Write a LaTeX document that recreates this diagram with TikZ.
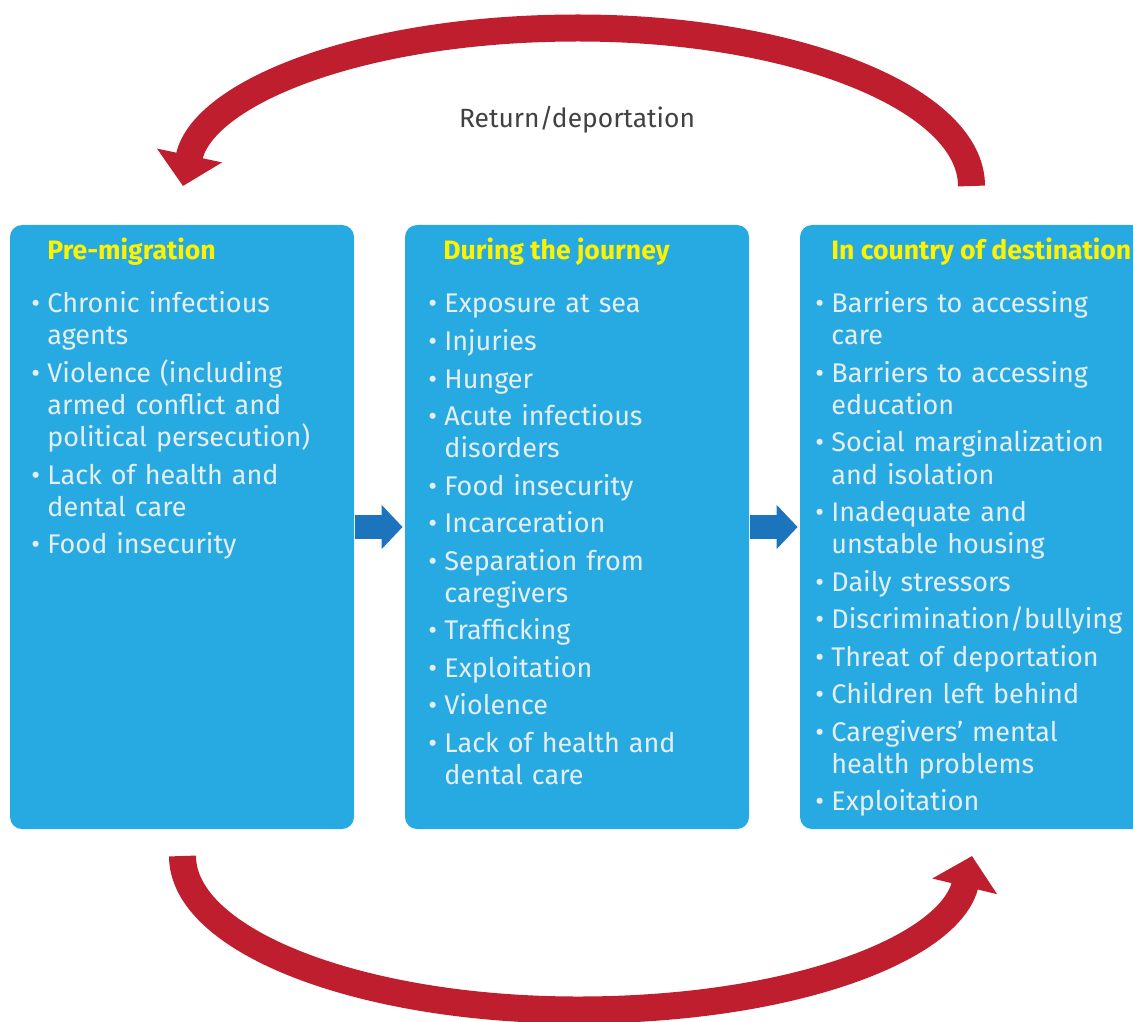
\documentclass[tikz,border=0pt]{standalone}
\usepackage{fontspec}
\setmainfont{Fira Sans}
\usetikzlibrary{arrows.meta}

\definecolor{boxblue}{HTML}{27AAE1}
\definecolor{arrowblue}{HTML}{1C75BC}
\definecolor{loopred}{HTML}{BE1E2D}
\definecolor{headyellow}{HTML}{FFF200}
\definecolor{itemgrey}{HTML}{E6EEF3}
\definecolor{labelgrey}{HTML}{414042}

% one bullet point, wrapped lines hang under the text
\newcommand{\entry}[1]{\noindent\hangindent=8pt\hangafter=1\makebox[8pt][l]{\textbullet}#1\par\vspace{2.75pt}}

\begin{document}
\begin{tikzpicture}[x=0.5pt, y=-0.5pt,
    stage/.style={fill=boxblue, rounded corners=6pt, minimum width=172pt, minimum height=302pt, inner sep=0pt},
    heading/.style={anchor=base west, inner sep=0pt, text=headyellow, font=\fontsize{13.3}{15}\selectfont\bfseries},
    items/.style={anchor=base west, inner sep=0pt, text width=165pt, align=left, text=itemgrey, font=\fontsize{13.5}{16}\selectfont},
    flow/.style={arrowblue, line width=12pt, -{Triangle[length=10.5pt, width=21.5pt]}, shorten <=0.5pt, shorten >=1pt},
    journeyarc/.style={loopred, line width=13.5pt, -{Triangle[length=15.6pt, width=32.4pt]}}]
    \useasboundingbox (0,0) rectangle (1133,1021);

    % the three stages
    \node[stage] (pre) at (182,527) {};
    \node[stage] (during) at (577,527) {};
    \node[stage] (dest) at (972,527) {};

    \node[heading] (preh) at (47,260) {Pre-migration};
    \node[heading] (duringh) at (443,260) {During the journey};
    \node[heading] (desth) at (831,260) {In country of destination};

    \node[items] (prelist) at (31,313) {%
        \entry{Chronic infectious\newline agents}
        \entry{Violence (including\newline armed conflict and\newline political persecution)}
        \entry{Lack of health and\newline dental care}
        \entry{Food insecurity}};
    \node[items] (duringlist) at (428,313) {%
        \entry{Exposure at sea}
        \entry{Injuries}
        \entry{Hunger}
        \entry{Acute infectious\newline disorders}
        \entry{Food insecurity}
        \entry{Incarceration}
        \entry{Separation from\newline caregivers}
        \entry{Trafficking}
        \entry{Exploitation}
        \entry{Violence}
        \entry{Lack of health and\newline dental care}};
    \node[items] (destlist) at (815,313) {%
        \entry{Barriers to accessing\newline care}
        \entry{Barriers to accessing\newline education}
        \entry{Social marginalization\newline and isolation}
        \entry{Inadequate and\newline unstable housing}
        \entry{Daily stressors}
        \entry{Discrimination/bullying}
        \entry{Threat of deportation}
        \entry{Children left behind}
        \entry{Caregivers' mental\newline health problems}
        \entry{Exploitation}};

    \draw[flow] (pre.east) -- (during.west);
    \draw[flow] (during.east) -- (dest.west);

    % way back on top
    \coordinate (backstart) at (971.5,186);
    \coordinate (backtop) at (578,28);
    \coordinate (backend) at (183,186);
    \draw[journeyarc] (backstart) .. controls (971.5,99) and (795,28) .. (backtop)
        .. controls (361,28) and (202.8,93) .. (backend);
    \node[text=labelgrey, font=\fontsize{13.2}{15}\selectfont] (returnlabel) at (577,120) {Return/deportation};

    % way out below
    \coordinate (gostart) at (182.5,856);
    \coordinate (gobottom) at (578,1010);
    \coordinate (goend) at (972,856);
    \draw[journeyarc] (gostart) .. controls (182.5,941) and (360,1010) .. (gobottom)
        .. controls (793,1010) and (949.7,948.3) .. (goend);
\end{tikzpicture}
\end{document}
